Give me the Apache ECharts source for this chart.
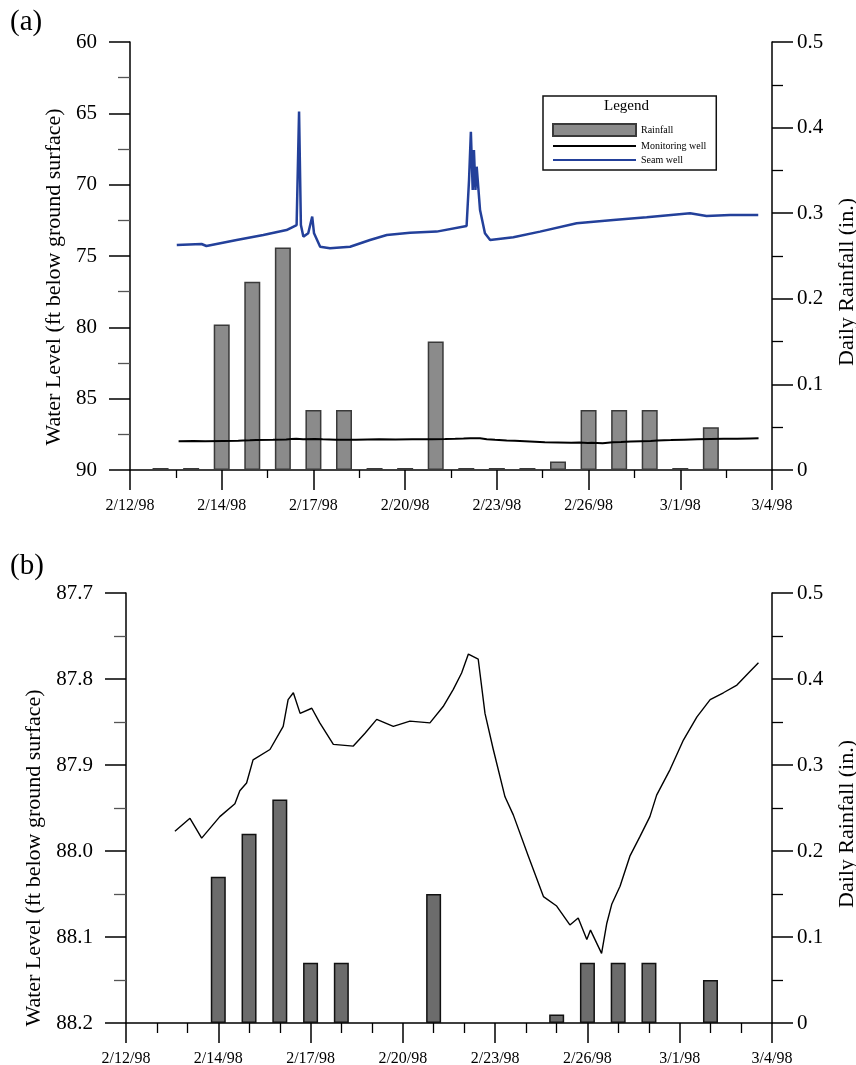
<!DOCTYPE html>
<html>
<head>
<meta charset="utf-8">
<script src="https://cdn.jsdelivr.net/npm/echarts@6/dist/echarts.min.js"></script>
<style>
  html, body { margin: 0; padding: 0; background: #fff; }
  #main { width: 856px; height: 1065px; }
</style>
</head>
<body>
<div id="main"></div>
<script>
// tick labels on the date axis (one every 3 days from the axis origin)
var xLabels = ['2/12/98', '2/14/98', '2/17/98', '2/20/98', '2/23/98', '2/26/98', '3/1/98', '3/4/98']

// daily rainfall, day index counted from the left end of the axis
var rainDay = [1, 2, 3, 4, 5, 6, 7, 8, 9, 10, 11, 12, 13, 14, 15, 16, 17, 18, 19]
var rainfall = [0, 0, 0.17, 0.22, 0.26, 0.07, 0.07, 0, 0, 0.15, 0, 0, 0, 0.01, 0.07, 0.07, 0.07, 0, 0.05]

// monitoring well water level (ft below ground surface)
var monDay = [1.59, 2.08, 2.46, 3.05, 3.54, 3.7, 3.92, 4.13, 4.68, 5.11,
  5.27, 5.44, 5.66, 6.04, 6.3, 6.74, 7.39, 7.77, 8.15, 8.69,
  9.23, 9.88, 10.31, 10.64, 10.91, 11.13, 11.45, 11.67, 11.94, 12.32,
  12.59, 13.08, 13.57, 14.0, 14.43, 14.7, 14.98, 15.1, 15.46, 15.63,
  15.79, 16.06, 16.38, 16.71, 17.03, 17.25, 17.69, 18.12, 18.56, 18.99,
  19.42, 19.86, 20.29, 20.56]
var monLevel = [87.977, 87.962, 87.985, 87.96, 87.945, 87.93, 87.921, 87.894, 87.882, 87.855,
  87.824, 87.816, 87.84, 87.834, 87.851, 87.876, 87.878, 87.863, 87.847, 87.855,
  87.849, 87.851, 87.832, 87.812, 87.793, 87.771, 87.777, 87.84, 87.882, 87.937,
  87.958, 88.006, 88.053, 88.064, 88.086, 88.078, 88.103, 88.092, 88.119, 88.084,
  88.062, 88.041, 88.006, 87.983, 87.96, 87.935, 87.905, 87.871, 87.844, 87.824,
  87.816, 87.807, 87.791, 87.781]

// seam well water level (ft below ground surface)
var seamDay = [1.53, 2.34, 2.5, 3.49, 4.36, 5.12, 5.45, 5.53, 5.59, 5.67,
  5.83, 5.96, 6.02, 6.22, 6.54, 7.2, 7.85, 8.4, 9.16, 10.03,
  11.01, 11.09, 11.15, 11.21, 11.25, 11.3, 11.34, 11.45, 11.61, 11.78,
  12.54, 13.41, 14.61, 15.81, 16.9, 18.32, 18.86, 19.63, 20.55]
var seamLevel = [74.23, 74.16, 74.3, 73.88, 73.53, 73.18, 72.83, 64.88, 72.83, 73.64,
  73.41, 72.24, 73.41, 74.35, 74.46, 74.35, 73.88, 73.53, 73.37, 73.29,
  72.9, 69.67, 66.29, 70.37, 67.57, 70.37, 68.74, 71.78, 73.41, 73.88,
  73.69, 73.29, 72.71, 72.48, 72.29, 72.01, 72.2, 72.13, 72.13]

var FONT = 'Liberation Serif'

function pairs(xs, ys) {
  var out = []
  for (var i = 0; i < xs.length; i++) out.push([xs[i], ys[i]])
  return out
}
var rainAll = pairs(rainDay, rainfall)
var rainWet = rainAll.filter(function (d) { return d[1] > 0 })

function dateAxis(grid, minorSplit, minorLen) {
  return {
    gridIndex: grid, type: 'value', min: 0, max: 21, interval: 3,
    axisLine: { onZero: false, lineStyle: { color: '#000', width: 1.5 } },
    axisTick: { length: 20, lineStyle: { color: '#000', width: 1.5 } },
    minorTick: { show: true, splitNumber: minorSplit, length: minorLen, lineStyle: { color: '#000', width: 1.3 } },
    splitLine: { show: false },
    axisLabel: {
      margin: 28, fontSize: 16, fontFamily: FONT, color: '#000',
      formatter: function (v) { return xLabels[Math.round(v / 3)] }
    }
  }
}

// shift: moves the rotated axis name down the page by about shift/2 px
function levelAxis(grid, min, max, step, gap, digits, shift) {
  return {
    gridIndex: grid, type: 'value', position: 'left', inverse: true,
    min: min, max: max, interval: step,
    name: 'Water Level (ft below ground surface)', nameLocation: 'middle', nameRotate: 90, nameGap: gap,
    nameTextStyle: { fontSize: 22, fontFamily: FONT, color: '#000', padding: [0, shift, 0, 0] },
    axisLine: { show: true, lineStyle: { color: '#000', width: 1.5 } },
    axisTick: { length: 21, lineStyle: { color: '#000', width: 1.5 } },
    minorTick: { show: true, splitNumber: 2, length: 12, lineStyle: { color: '#555', width: 1.3 } },
    splitLine: { show: false },
    axisLabel: {
      margin: 33, fontSize: 21, fontFamily: FONT, color: '#000',
      formatter: function (v) { return v.toFixed(digits) }
    }
  }
}

function rainAxis(grid, gap, shift) {
  return {
    gridIndex: grid, type: 'value', position: 'right', min: 0, max: 0.5, interval: 0.1,
    name: 'Daily Rainfall (in.)', nameLocation: 'middle', nameRotate: 90, nameGap: gap,
    nameTextStyle: { fontSize: 22, fontFamily: FONT, color: '#000', padding: [0, shift, 0, 0] },
    axisLine: { show: true, lineStyle: { color: '#000', width: 1.5 } },
    axisTick: { length: 21, lineStyle: { color: '#000', width: 1.5 } },
    minorTick: { show: true, splitNumber: 2, length: 11, lineStyle: { color: '#000', width: 1.3 } },
    splitLine: { show: false },
    axisLabel: {
      margin: 25, fontSize: 21, fontFamily: FONT, color: '#000',
      formatter: function (v) { return v === 0 ? '0' : v.toFixed(1) }
    }
  }
}

var noMarker = { color: 'rgba(0,0,0,0)', borderWidth: 0, opacity: 0 }

var chart = echarts.init(document.getElementById('main'))
var option = {
  backgroundColor: '#fff',
  animation: false,
  grid: [
    { left: 130, top: 42, width: 642, height: 428, containLabel: false, outerBoundsMode: 'none' },
    { left: 126, top: 593, width: 646, height: 430, containLabel: false, outerBoundsMode: 'none' }
  ],
  xAxis: [dateAxis(0, 2, 8), dateAxis(1, 3, 10)],
  yAxis: [
    levelAxis(0, 60, 90, 5, 64, 0, 42),
    rainAxis(0, 64, 52),
    levelAxis(1, 87.7, 88.2, 0.1, 75, 1, 100),
    rainAxis(1, 64, 32)
  ],
  legend: {
    orient: 'vertical', left: 543, top: 96,
    padding: [27, 10, 5, 9], itemGap: 4, itemWidth: 83, itemHeight: 12,
    backgroundColor: '#fff', borderColor: '#111', borderWidth: 1.5,
    textStyle: { fontSize: 10, fontFamily: FONT, color: '#000' },
    data: [
      { name: 'Rainfall', icon: 'rect' },
      { name: 'Monitoring well', itemStyle: noMarker },
      { name: 'Seam well', itemStyle: noMarker }
    ]
  },
  graphic: [
    { type: 'text', left: 10, top: 8, style: { text: '(a)', fontSize: 29, fontFamily: FONT, fill: '#000' } },
    { type: 'text', left: 10, top: 552, style: { text: '(b)', fontSize: 29, fontFamily: FONT, fill: '#000' } },
    { type: 'text', left: 604, top: 99, z: 100, style: { text: 'Legend', fontSize: 15, fontFamily: FONT, fill: '#000' } }
  ],
  series: [
    {
      name: 'Rainfall', type: 'bar', xAxisIndex: 0, yAxisIndex: 1, barWidth: 16, barMinHeight: 2,
      itemStyle: { color: '#8b8b8b', borderColor: '#3a3a3a', borderWidth: 1.5 },
      data: rainAll
    },
    {
      name: 'Monitoring well', type: 'line', xAxisIndex: 0, yAxisIndex: 0,
      showSymbol: false, symbol: 'none', z: 3,
      lineStyle: { color: '#000', width: 2 }, itemStyle: { color: '#000' },
      data: pairs(monDay, monLevel)
    },
    {
      name: 'Seam well', type: 'line', xAxisIndex: 0, yAxisIndex: 0,
      showSymbol: false, symbol: 'none', z: 4,
      lineStyle: { color: '#23409a', width: 2.5 }, itemStyle: { color: '#23409a' },
      data: pairs(seamDay, seamLevel)
    },
    {
      name: 'Rainfall', type: 'bar', xAxisIndex: 1, yAxisIndex: 3, barWidth: 15,
      itemStyle: { color: '#6c6c6c', borderColor: '#111', borderWidth: 1.5 },
      data: rainWet
    },
    {
      name: 'Monitoring well', type: 'line', xAxisIndex: 1, yAxisIndex: 2,
      showSymbol: false, symbol: 'none', z: 3,
      lineStyle: { color: '#000', width: 1.4 }, itemStyle: { color: '#000' },
      data: pairs(monDay, monLevel)
    }
  ]
}
chart.setOption(option)
</script>
</body>
</html>
